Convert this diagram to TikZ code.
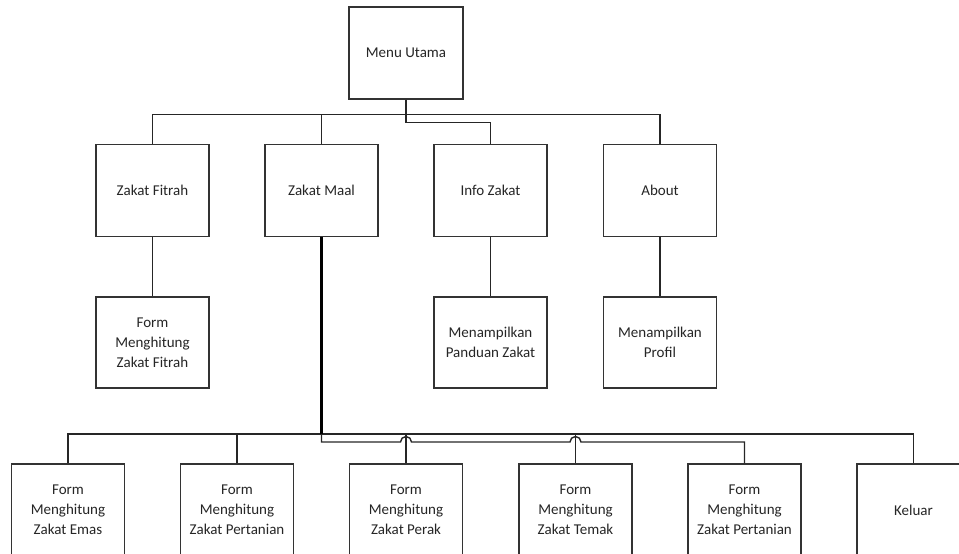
\documentclass[tikz,border=0pt]{standalone}
\usepackage{fontspec}
\setmainfont{Carlito}
\begin{document}
\begin{tikzpicture}[x=1pt,y=-1pt,
  box/.style={draw=black!80,line width=1.4pt,fill=white,minimum width=113pt,minimum height=92pt,inner sep=0pt,align=center,font=\fontsize{15}{20}\selectfont,text=black!85},
  link/.style={draw=black!85,line width=1.4pt},
  thicklink/.style={draw=black,line width=2.6pt}]
\useasboundingbox (0,0) rectangle (959,554);
\clip (0,0) rectangle (959,554);
% level 1
\node[box,minimum width=114pt] (menu) at (406,53) {Menu Utama};
% level 2
\node[box] (fitrah) at (152.5,190.5) {Zakat Fitrah};
\node[box] (maal) at (321.5,190.5) {Zakat Maal};
\node[box] (info) at (490.5,190.5) {Info Zakat};
\node[box] (about) at (660,190.5) {About};
% level 3
\node[box,minimum height=91pt] (ffitrah) at (152.5,342.5) {Form\\Menghitung\\Zakat Fitrah};
\node[box,minimum height=91pt] (panduan) at (490.5,342.5) {Menampilkan\\Panduan Zakat};
\node[box,minimum height=91pt] (profil) at (660,342.5) {Menampilkan\\Profil};
% level 4
\node[box] (emas) at (68,510) {Form\\Menghitung\\Zakat Emas};
\node[box] (pert) at (237,510) {Form\\Menghitung\\Zakat Pertanian};
\node[box] (perak) at (406,510) {Form\\Menghitung\\Zakat Perak};
\node[box] (temak) at (575.5,510) {Form\\Menghitung\\Zakat Temak};
\node[box] (pert2) at (744.5,510) {Form\\Menghitung\\Zakat Pertanian};
\node[box] (keluar) at (913.5,510) {Keluar};
% buses
\coordinate (bus1) at (406,114.5);
\coordinate (bus2) at (321.5,434);
% level 1 -> 2
\draw[link] (fitrah.north) |- (bus1) -| (about.north);
\draw[link] (menu.south) -- (bus1);
\draw[link] (maal.north) -- (maal.north |- bus1);
\draw[link] (menu.south) -- ++(0,23) -| (info.north);
% level 2 -> 3
\draw[link] (fitrah.south) -- (ffitrah.north);
\draw[link] (info.south) -- (panduan.north);
\draw[link] (about.south) -- (profil.north);
% level 4
\draw[link] (emas.north) |- (keluar.north |- bus2) -- (keluar.north);
\draw[link] (pert.north) -- (pert.north |- bus2);
\draw[link] (perak.north) -- (perak.north |- bus2);
\draw[link] (temak.north) -- (temak.north |- bus2);
\draw[link] (bus2) -- ++(0,8) -- ([xshift=-5.5pt]perak.north |- 0,442)
  arc[start angle=180,end angle=0,radius=5.5pt]
  -- ([xshift=-5.5pt]temak.north |- 0,442)
  arc[start angle=180,end angle=0,radius=5.5pt]
  -| (pert2.north);
\draw[thicklink] (maal.south) -- (bus2);
\end{tikzpicture}
\end{document}
